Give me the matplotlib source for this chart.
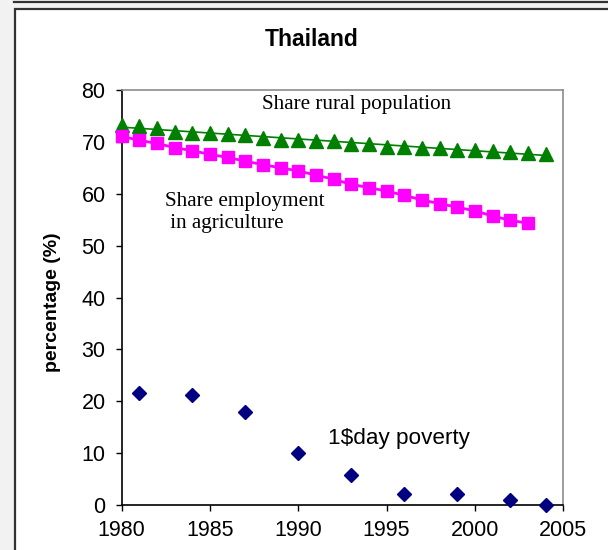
import numpy as np
import matplotlib
matplotlib.use("Agg")
import matplotlib.pyplot as plt
from matplotlib.patches import Rectangle
from matplotlib.lines import Line2D

# Series (percent)
years_rural = list(range(1980, 2005))
rural_share = [73.2, 73.1, 72.6, 72.0, 71.8, 71.8, 71.6, 71.3, 70.8, 70.4,
               70.4, 70.1, 70.1, 69.6, 69.6, 69.0, 69.0, 68.8, 68.8, 68.5,
               68.5, 68.2, 68.1, 67.9, 67.6]

years_agri = list(range(1980, 2004))
agri_employment = [71.1, 70.3, 69.7, 68.9, 68.3, 67.6, 67.0, 66.3, 65.6, 65.0,
                   64.4, 63.6, 62.8, 61.8, 61.2, 60.5, 59.7, 58.8, 58.1, 57.4,
                   56.7, 55.7, 54.9, 54.3]

years_poverty = [1981, 1984, 1987, 1990, 1993, 1996, 1999, 2002, 2004]
poverty_1usd = [21.6, 21.3, 17.9, 10.0, 5.8, 2.1, 2.1, 1.0, 0.0]

x_ticks = [1980, 1985, 1990, 1995, 2000, 2005]
y_ticks = [0, 10, 20, 30, 40, 50, 60, 70, 80]

plt.rcParams["font.family"] = ["Liberation Sans", "DejaVu Sans"]

fig = plt.figure(figsize=(6.08, 5.5), dpi=100)
fig.patch.set_facecolor("#f2f2f2")

# white chart panel with dark frame, running off the right and bottom edges
fig.patches.append(Rectangle((15 / 608, -0.2), 1.2, 1.2 - 9 / 550,
                             transform=fig.transFigure, facecolor="white",
                             edgecolor="#333333", linewidth=1.6, zorder=-5))
fig.add_artist(Line2D([14 / 608, 1.0], [1 - 1.5 / 550, 1 - 1.5 / 550],
                      transform=fig.transFigure, color="#333333", linewidth=1.6))

ax = fig.add_axes([121.5 / 608, 1 - 505 / 550, (563.3 - 121.5) / 608, (505 - 90) / 550])
ax.set_zorder(2)
ax.set_facecolor("white")

# rural population share with a linear trend line
coef = np.polyfit(years_rural, rural_share, 1)
trend_x = np.array([years_rural[0], years_rural[-1]])
ax.plot(trend_x, np.polyval(coef, trend_x), color="#008000", linewidth=1.2,
        clip_on=False, zorder=3)
ax.plot(years_rural, rural_share, linestyle="none", marker="^", markersize=10,
        color="#008000", clip_on=False, zorder=4)

# agricultural employment share
ax.plot(years_agri, agri_employment, color="#ff00ff", linewidth=2, marker="s",
        markersize=8, clip_on=False, zorder=4)

# 1$ a day poverty
ax.plot(years_poverty, poverty_1usd, linestyle="none", marker="D", markersize=7,
        color="#000080", clip_on=False, zorder=4)

ax.set_xlim(1980, 2005)
ax.set_ylim(0, 80)
ax.set_xticks(x_ticks)
ax.set_yticks(y_ticks)
ax.tick_params(axis="x", direction="out", length=4.5, width=1, pad=6, labelsize=15.5)
ax.tick_params(axis="y", direction="out", length=4.5, width=1, pad=7, labelsize=15.5)

for side in ["left", "bottom"]:
    ax.spines[side].set_color("black")
    ax.spines[side].set_linewidth(1.2)
for side in ["top", "right"]:
    ax.spines[side].set_color("#8c8c8c")
    ax.spines[side].set_linewidth(1.2)

ax.text(1987.95, 77.3, "Share rural population", family="Liberation Serif",
        fontsize=15.2, ha="left", va="center")
ax.text(1982.46, 56.4, "Share employment\n in agriculture", family="Liberation Serif",
        fontsize=15.2, ha="left", va="center", linespacing=1.2)
ax.text(1991.7, 12.9, r"1\$day poverty", fontsize=16.2, ha="left", va="center")

fig.text(312 / 608, 1 - 40 / 550, "Thailand", fontsize=16.5, fontweight="bold",
         ha="center", va="center")
fig.text(53 / 608, 1 - 302 / 550, "percentage (%)", fontsize=14, fontweight="bold",
         rotation=90, ha="center", va="center")

fig.savefig("out.png", dpi=100, facecolor=fig.get_facecolor())
